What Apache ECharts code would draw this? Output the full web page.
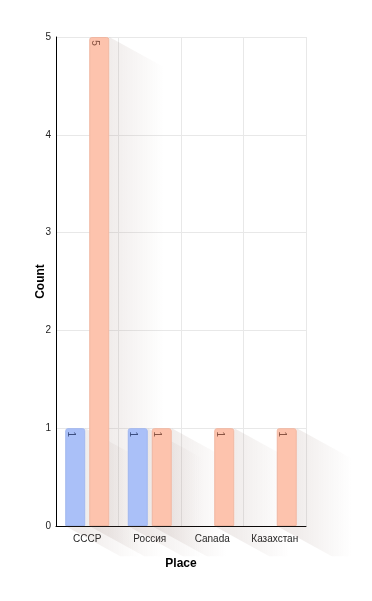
<!DOCTYPE html>
<html><head><meta charset="utf-8">
<script src="https://cdn.jsdelivr.net/npm/echarts@6/dist/echarts.min.js"></script>
<style>html,body{margin:0;padding:0;background:#fff}#c{width:372px;height:601px}</style>
</head><body><div id="c"></div>
<script>
var categories = ['СССР', 'Россия', 'Canada', 'Казахстан'];
var seriesA = [1, 1, 0, 0];
var seriesB = [5, 1, 1, 1];
var yTicks = [0, 1, 2, 3, 4, 5];

var chart = echarts.init(document.getElementById('c'));
var BW = 20, OFF = 12;

function shadowItem(offsetSign) {
  return function (params, api) {
    var cat = api.value(0), val = api.value(1);
    if (!val) return null;
    var top = api.coord([cat, val]);
    var base = api.coord([cat, 0]);
    var cx = top[0] + offsetSign * OFF;
    var xl = cx - BW / 2, xr = cx + BW / 2;
    var yt = top[1], yb = base[1];
    var L = 55, S = 0.55;
    return {
      type: 'polygon',
      shape: { points: [[xr, yt], [xr + L, yt + L * S], [xr + L, yb + L * S], [xl + L, yb + L * S], [xl, yb], [xr, yb]] },
      style: {
        fill: new echarts.graphic.LinearGradient(xr, 0, xr + L, 0, [
          { offset: 0, color: 'rgba(140,110,100,0.13)' },
          { offset: 1, color: 'rgba(140,110,100,0)' }
        ], true)
      },
      silent: true
    };
  };
}

function toPairs(arr) { return arr.map(function (v, i) { return [i, v]; }); }
function barData(arr) { return arr.map(function (v) { return v === 0 ? null : v; }); }

chart.setOption({
  animation: false,
  grid: { left: 56, right: 66, top: 37, bottom: 75 },
  xAxis: {
    type: 'category',
    data: categories,
    name: 'Place',
    nameLocation: 'middle',
    nameGap: 32,
    nameTextStyle: { fontWeight: 'bold', fontSize: 12, color: '#000', fontFamily: 'Liberation Sans' },
    axisLine: { lineStyle: { color: '#000', width: 1 } },
    axisTick: { show: false },
    axisLabel: { color: '#222', fontSize: 10, fontFamily: 'Liberation Sans', margin: 8 },
    splitLine: { show: true, lineStyle: { color: '#e8e8e8' } }
  },
  yAxis: {
    type: 'value',
    min: 0, max: 5, interval: 1,
    name: 'Count',
    nameLocation: 'middle',
    nameGap: 16,
    nameMoveOverlap: false,
    nameTextStyle: { fontWeight: 'bold', fontSize: 12, color: '#000', fontFamily: 'Liberation Sans' },
    axisLine: { show: true, lineStyle: { color: '#000', width: 1 } },
    axisTick: { show: false },
    axisLabel: { color: '#222', fontSize: 10, fontFamily: 'Liberation Sans', margin: 5,
      formatter: function (v) { return yTicks.indexOf(v) >= 0 ? String(v) : ''; } },
    splitLine: { show: true, lineStyle: { color: '#e8e8e8' } }
  },
  series: [
    { type: 'custom', renderItem: shadowItem(-1), data: toPairs(seriesA), clip: false, z: 1, silent: true },
    { type: 'custom', renderItem: shadowItem(1), data: toPairs(seriesB), clip: false, z: 1, silent: true },
    {
      type: 'bar', name: 'A', data: barData(seriesA), barWidth: BW, barGap: '20%', z: 3,
      itemStyle: { color: '#aac0f8', borderColor: '#a0b6ee', borderWidth: 1, borderRadius: [2, 2, 0, 0] },
      label: { show: true, position: 'insideTop', rotate: -90, fontSize: 10, color: '#3d4f80', distance: 6,
        fontFamily: 'Liberation Sans' }
    },
    {
      type: 'bar', name: 'B', data: barData(seriesB), barWidth: BW, barGap: '20%', z: 3,
      itemStyle: { color: '#fdc3ad', borderColor: '#f0b7a2', borderWidth: 1, borderRadius: [2, 2, 0, 0] },
      label: { show: true, position: 'insideTop', rotate: -90, fontSize: 10, color: '#8a5544', distance: 6,
        fontFamily: 'Liberation Sans' }
    }
  ],
  graphic: []
});
chart.setOption({ yAxis: { nameGap: 9 } });
</script></body></html>
